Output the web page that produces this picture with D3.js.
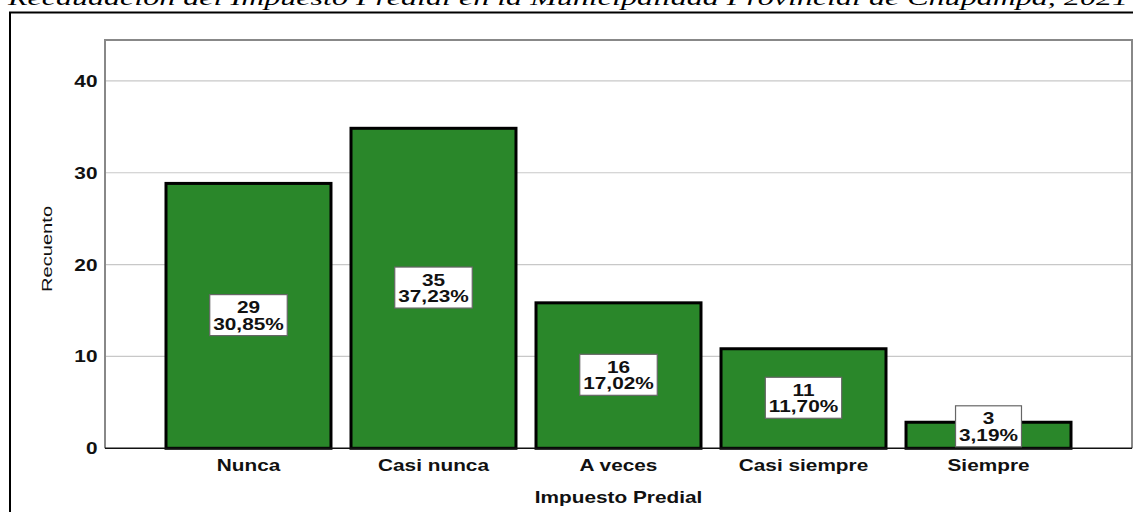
<!DOCTYPE html>
<html>
<head>
<meta charset="utf-8">
<script src="https://cdn.jsdelivr.net/npm/d3@7"></script>
<style>
  html, body { margin: 0; padding: 0; background: #ffffff; overflow: hidden; }
  svg { display: block; }
</style>
</head>
<body>
<div id="chart"></div>
<script>
const categories = ["Nunca", "Casi nunca", "A veces", "Casi siempre", "Siempre"];
const counts = [29, 35, 16, 11, 3];
const percents = ["30,85%", "37,23%", "17,02%", "11,70%", "3,19%"];
const yTicks = [0, 10, 20, 30, 40];
const titleText = "Recaudación del Impuesto Predial en la Municipalidad Provincial de Chupampa, 2021";
const xTitle = "Impuesto Predial";
const yTitle = "Recuento";

const W = 1133, H = 512;
const SX = 1.3; // horizontal stretch of the text
const font = "'Liberation Sans', Arial, sans-serif";

const svg = d3.select("#chart").append("svg").attr("width", W).attr("height", H);

// Title (partly cut off at top)
svg.append("text")
  .attr("x", 8).attr("y", 5)
  .attr("font-family", "'Liberation Serif', 'DejaVu Serif', serif")
  .attr("font-style", "italic")
  .attr("font-size", 22)
  .attr("textLength", 1120)
  .attr("lengthAdjust", "spacingAndGlyphs")
  .attr("fill", "#000")
  .text(titleText);

// Outer frame
svg.append("rect")
  .attr("x", 10).attr("y", 12.5).attr("width", 1300).attr("height", 700)
  .attr("fill", "none").attr("stroke", "#000").attr("stroke-width", 2);

const plot = { left: 105, right: 1132, top: 40, bottom: 448.3 };

const x = d3.scaleBand().domain(categories).range([plot.left, plot.right])
  .paddingInner(0.092).paddingOuter(0.3216);
const y = d3.scaleLinear().domain([0, 44.45]).range([plot.bottom, plot.top]);

// plot background
svg.append("rect")
  .attr("x", plot.left).attr("y", plot.top)
  .attr("width", plot.right - plot.left).attr("height", plot.bottom - plot.top)
  .attr("fill", "#fff");

// gridlines
svg.append("g").selectAll("line").data(yTicks.filter(d => d > 0)).join("line")
  .attr("x1", plot.left).attr("x2", plot.right)
  .attr("y1", d => y(d)).attr("y2", d => y(d))
  .attr("stroke", "#c8c8c8").attr("stroke-width", 1.2);

// plot border (left, top, right) grey
svg.append("path")
  .attr("d", `M${plot.left},${plot.bottom} V${plot.top} H${plot.right} V${plot.bottom}`)
  .attr("fill", "none").attr("stroke", "#888").attr("stroke-width", 2);

// helper for stretched text
function stext(g, tx, ty, str, opts = {}) {
  return g.append("text")
    .attr("transform", `translate(${tx},${ty}) scale(${SX},1)`)
    .attr("text-anchor", opts.anchor || "middle")
    .attr("font-family", font)
    .attr("font-weight", opts.weight || "bold")
    .attr("font-size", opts.size || 16)
    .attr("fill", opts.fill || "#111")
    .text(str);
}

// Y axis tick labels
const yAxisG = svg.append("g");
yTicks.forEach(t => {
  stext(yAxisG, 97.5, y(t) + 6, t, { anchor: "end" });
});

// Y axis title (rotated)
svg.append("text")
  .attr("transform", `translate(52,249) rotate(-90) scale(${SX},1)`)
  .attr("text-anchor", "middle")
  .attr("font-family", font)
  .attr("font-size", 15.5)
  .attr("fill", "#111")
  .text(yTitle);

// Bars
const bw = x.bandwidth();
svg.append("g").selectAll("rect").data(categories).join("rect")
  .attr("x", d => x(d) + 1.5)
  .attr("y", (d, i) => y(counts[i]) + 1.5)
  .attr("width", bw - 3)
  .attr("height", (d, i) => y(0) - y(counts[i]) - 1.5)
  .attr("fill", "#2a872a")
  .attr("stroke", "#000")
  .attr("stroke-width", 3);

// bottom axis line
svg.append("line")
  .attr("x1", plot.left).attr("x2", plot.right)
  .attr("y1", plot.bottom).attr("y2", plot.bottom)
  .attr("stroke", "#111").attr("stroke-width", 1.5);

// X tick labels
const xAxisG = svg.append("g");
categories.forEach(c => {
  stext(xAxisG, x(c) + bw / 2, 470.7, c);
});

// X axis title
stext(svg, (plot.left + plot.right) / 2, 503.3, xTitle);

// value labels
const labelsG = svg.append("g");
categories.forEach((c, i) => {
  const cx = x(c) + bw / 2;
  const cy = Math.min(y(counts[i] / 2), y(0) - 22);
  const g = labelsG.append("g");
  const box = g.append("rect");
  const t1 = stext(g, cx, cy - 2, counts[i]);
  const t2 = stext(g, cx, cy + 14.5, percents[i]);
  const w = Math.max(t1.node().getComputedTextLength(), t2.node().getComputedTextLength()) * SX + 7;
  box.attr("x", cx - w / 2).attr("y", cy - 20.5)
    .attr("width", w).attr("height", 41)
    .attr("fill", "#fff").attr("stroke", "#666").attr("stroke-width", 1.2);
});
</script>
</body>
</html>
